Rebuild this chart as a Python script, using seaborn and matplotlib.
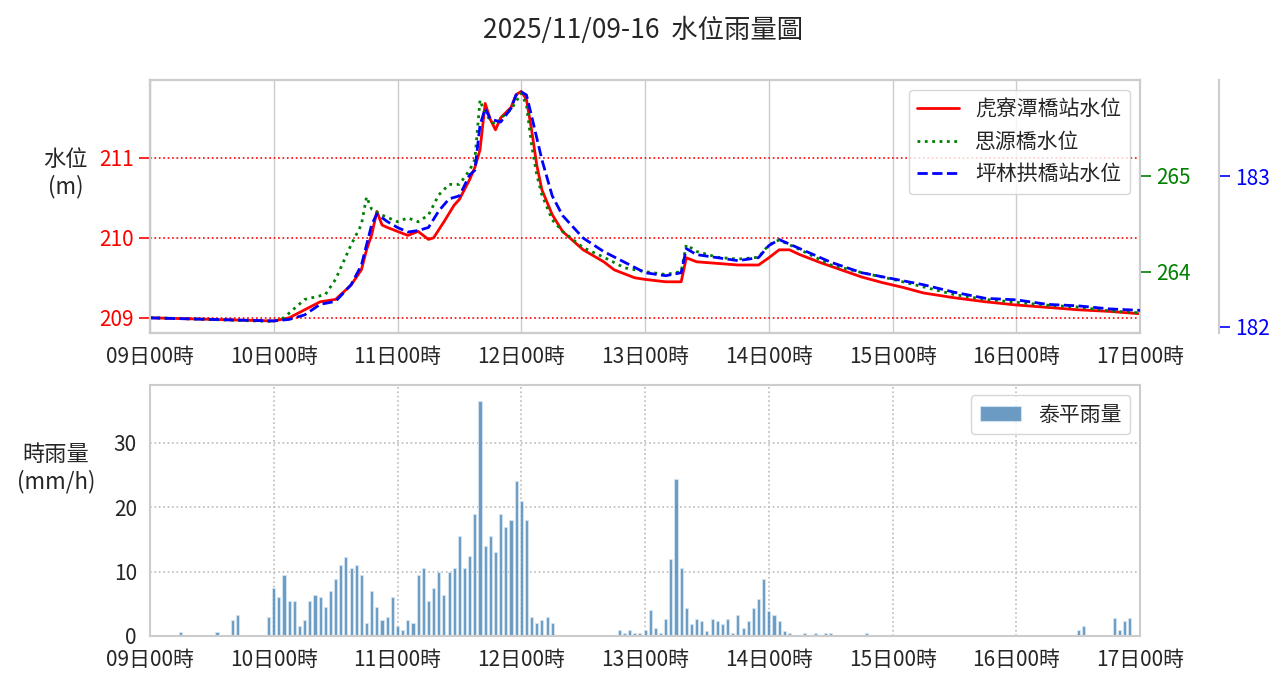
import matplotlib.pyplot as plt
import seaborn as sns
import numpy as np
import pandas as pd

# ---- data (hours since 11/09 00:00) ----
red_h = [0, 12, 24, 27, 30, 33, 36, 39, 41, 42, 43, 44, 45, 46, 48, 50, 52, 54, 55, 57, 59, 60, 62, 63, 64, 65,
         66, 67, 68, 70, 71, 72, 73, 74, 75, 76, 78, 80, 84, 88, 90, 94, 96, 100, 103, 104, 106, 110, 114, 118,
         120, 122, 124, 126, 130, 134, 138, 142, 146, 150, 156, 162, 168, 174, 180, 186, 192]
red_v = [209.0, 208.98, 208.96, 209.0, 209.10, 209.20, 209.23, 209.41, 209.60, 209.85, 210.04, 210.33, 210.16,
         210.13, 210.08, 210.03, 210.08, 209.98, 210.0, 210.2, 210.41, 210.48, 210.73, 210.88, 211.10, 211.68,
         211.48, 211.35, 211.5, 211.63, 211.79, 211.83, 211.73, 211.35, 210.91, 210.60, 210.29, 210.08, 209.85,
         209.70, 209.60, 209.50, 209.48, 209.45, 209.45, 209.75, 209.70, 209.68, 209.66, 209.66,
         209.75, 209.85, 209.85, 209.79, 209.69, 209.60, 209.51, 209.44, 209.38, 209.31, 209.25, 209.20, 209.16,
         209.13, 209.10, 209.08, 209.05]

green_h = [0, 12, 24, 26, 30, 34, 36, 39, 41, 42, 43, 45, 48, 50, 52, 54, 56, 58, 60, 62, 63, 64, 65, 67, 68, 70,
           72, 73, 74, 75, 76, 78, 80, 84, 88, 92, 96, 100, 103, 104, 106, 110, 114, 118, 120, 122, 126, 132,
           138, 144, 150, 156, 162, 168, 174, 180, 186, 192]
green_v = [263.52, 263.50, 263.48, 263.52, 263.71, 263.76, 263.92, 264.28, 264.49, 264.78, 264.65, 264.59,
           264.52, 264.56, 264.52, 264.59, 264.80, 264.91, 264.91, 265.06, 265.17, 265.79, 265.64, 265.53,
           265.60, 265.69, 265.86, 265.74, 265.32, 265.01, 264.80, 264.54, 264.42, 264.25, 264.15, 264.04,
           264.00, 263.97, 264.00, 264.28, 264.21, 264.15, 264.13, 264.15, 264.28, 264.33, 264.23, 264.07,
           263.99, 263.92, 263.84, 263.76, 263.71, 263.68, 263.65, 263.63, 263.59, 263.57]

blue_h = [0, 12, 24, 27, 30, 33, 36, 39, 41, 43, 44, 46, 48, 50, 52, 54, 56, 58, 60, 62, 63, 64, 65, 66, 68, 70,
          71, 72, 73, 74, 76, 78, 80, 84, 88, 92, 96, 100, 103, 104, 106, 110, 114, 118, 120, 122, 126, 132,
          138, 144, 150, 156, 162, 168, 174, 180, 186, 192]
blue_v = [182.06, 182.05, 182.04, 182.05, 182.08, 182.15, 182.17, 182.28, 182.41, 182.68, 182.75, 182.70,
          182.66, 182.63, 182.64, 182.66, 182.77, 182.85, 182.87, 183.01, 183.04, 183.34, 183.45, 183.38,
          183.36, 183.45, 183.54, 183.56, 183.54, 183.40, 183.11, 182.87, 182.74, 182.59, 182.50, 182.43,
          182.36, 182.34, 182.36, 182.52, 182.48, 182.46, 182.44, 182.46, 182.54, 182.58, 182.52, 182.43,
          182.36, 182.32, 182.28, 182.23, 182.19, 182.18, 182.15, 182.14, 182.12, 182.11]

rain_h = [6, 13, 16, 17, 23, 24, 25, 26, 27, 28, 29, 30, 31, 32, 33, 34, 35, 36, 37, 38, 39, 40, 41, 42, 43, 44,
          45, 46, 47, 48, 49, 50, 51, 52, 53, 54, 55, 56, 57, 58, 59, 60, 61, 62, 63, 64, 65, 66, 67, 68, 69, 70,
          71, 72, 73, 74, 75, 76, 77, 78, 91, 92, 93, 94, 95, 96, 97, 98, 99, 100, 101, 102, 103, 104, 105, 106,
          107, 108, 109, 110, 111, 112, 113, 114, 115, 116, 117, 118, 119, 120, 121, 122, 123, 124, 127, 129,
          131, 132, 139, 180, 181, 187, 188, 189, 190]
rain_v = [0.6, 0.6, 2.5, 3.3, 3.0, 7.5, 6.0, 9.4, 5.5, 5.5, 1.5, 2.5, 5.5, 6.3, 6.0, 4.5, 7.0, 8.8, 11.0, 12.3,
          10.5, 11.0, 9.4, 2.0, 7.0, 4.5, 2.5, 3.0, 6.0, 1.5, 1.0, 2.5, 2.0, 9.4, 10.5, 5.5, 7.5, 10.0, 6.3, 10.0,
          10.5, 15.5, 10.5, 12.5, 19.0, 36.5, 14.0, 15.5, 13.0, 19.0, 17.0, 18.0, 24.0, 21.0, 18.0, 3.0, 2.0, 2.5,
          3.0, 2.0, 0.9, 0.4, 0.9, 0.4, 0.4, 0.9, 4.0, 1.3, 0.4, 2.7, 11.9, 24.4, 10.5, 4.3, 1.8, 2.7, 2.3, 0.8,
          2.7, 2.3, 1.8, 2.7, 0.4, 3.3, 1.3, 2.3, 4.3, 5.8, 8.8, 3.9, 3.3, 2.3, 0.8, 0.4, 0.4, 0.4, 0.4, 0.4, 0.4,
          1.0, 1.5, 2.8, 1.0, 2.3, 2.8]

tick_pos = [0, 24, 48, 72, 96, 120, 144, 168, 192]
tick_lbl = ["09日00時", "10日00時", "11日00時", "12日00時", "13日00時",
            "14日00時", "15日00時", "16日00時", "17日00時"]

# ---- style ----
sns.set_theme(style="whitegrid")
plt.rcParams["font.family"] = ["Noto Sans CJK TC", "DejaVu Sans"]
plt.rcParams["axes.edgecolor"] = "#cccccc"

fig = plt.figure(figsize=(12.86, 6.86), dpi=100)
ax1 = fig.add_axes([0.1166, 0.5146, 0.770, 0.369])
ax2 = fig.add_axes([0.1166, 0.0729, 0.770, 0.366])
fig.suptitle("2025/11/09-16  水位雨量圖", fontsize=19, y=0.975)

# ---- top: water level ----
axg = ax1.twinx()
axb = ax1.twinx()
axb.spines["right"].set_position(("outward", 57))

sns.lineplot(x=red_h, y=red_v, ax=ax1, color="red", linewidth=2, label="虎寮潭橋站水位", legend=False)
sns.lineplot(x=green_h, y=green_v, ax=axg, color="green", linewidth=2, linestyle=":", label="思源橋水位", legend=False)
sns.lineplot(x=blue_h, y=blue_v, ax=axb, color="blue", linewidth=2, linestyle="--", label="坪林拱橋站水位", legend=False)

ax1.set_xlim(0, 192)
ax1.set_ylim(208.81, 211.975)
axg.set_ylim(263.36, 266.0)
axb.set_ylim(181.96, 183.64)
ax1.set_yticks([209, 210, 211])
axg.set_yticks([264, 265])
axb.set_yticks([182, 183])
ax1.yaxis.grid(False)
axg.grid(False)
axb.grid(False)
for v in [209, 210, 211]:
    ax1.axhline(v, color="red", linestyle=":", linewidth=1.2)
ax1.set_xticks(tick_pos)
ax1.set_xticklabels(tick_lbl, fontsize=15)
ax1.tick_params(axis="y", colors="red", labelsize=15, length=8, width=1.2, left=True)
axg.tick_params(axis="y", colors="green", labelsize=15, length=8, width=1.2, right=True)
axb.tick_params(axis="y", colors="blue", labelsize=15, length=8, width=1.2, right=True)
for a in (ax1, axg, axb):
    for s in a.spines.values():
        s.set_color("#cccccc")
        s.set_linewidth(1.5)
ax1.set_ylabel("水位\n(m)", rotation=0, fontsize=16, va="center")
ax1.yaxis.set_label_coords(-0.085, 0.63)
ax1.set_xlabel("")

h1, l1 = ax1.get_legend_handles_labels()
h2, l2 = axg.get_legend_handles_labels()
h3, l3 = axb.get_legend_handles_labels()
ax1.legend(h1 + h2 + h3, l1 + l2 + l3, loc="upper right", fontsize=15, frameon=True)

# ---- bottom: rainfall ----
rain = pd.DataFrame({"hour": rain_h, "rain": rain_v})
ax2.bar(rain["hour"], rain["rain"], width=0.6, color="steelblue", alpha=0.8,
        edgecolor="#d6e6f2", linewidth=0.8, label="泰平雨量")
ax2.set_xlim(0, 192)
ax2.set_ylim(0, 39)
ax2.set_yticks([0, 10, 20, 30])
ax2.set_xticks(tick_pos)
ax2.set_xticklabels(tick_lbl, fontsize=15)
ax2.tick_params(axis="y", labelsize=15)
ax2.grid(True, linestyle=":", color="#bbbbbb", linewidth=1.2)
for s in ax2.spines.values():
    s.set_color("#cccccc")
    s.set_linewidth(1.5)
ax2.set_ylabel("時雨量\n(mm/h)", rotation=0, fontsize=16, va="center")
ax2.yaxis.set_label_coords(-0.095, 0.67)
ax2.legend(loc="upper right", fontsize=15, frameon=True)

fig.savefig("out.png", dpi=100)
